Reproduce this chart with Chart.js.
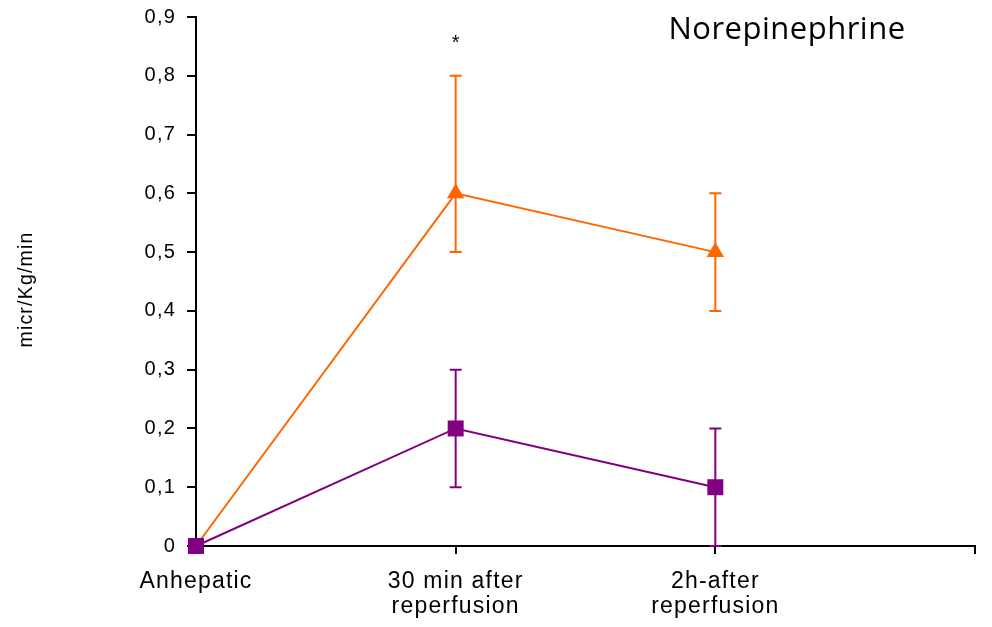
<!DOCTYPE html>
<html>
<head>
<meta charset="utf-8">
<script src="https://cdn.jsdelivr.net/npm/chart.js@4/dist/chart.umd.min.js"></script>
<style>
  html, body { margin: 0; padding: 0; background: #fff; }
  #wrap { width: 992px; height: 627px; }
</style>
</head>
<body>
<div id="wrap"><canvas id="chart"></canvas></div>
<script>
// categories (last slot is empty, the axis runs on to it)
const categories = ['Anhepatic', ['30 min after', 'reperfusion'], ['2h-after', 'reperfusion'], ''];
const yTicks = [0, 0.1, 0.2, 0.3, 0.4, 0.5, 0.6, 0.7, 0.8, 0.9];
const yTitle = 'micr/Kg/min';
const chartTitle = 'Norepinephrine';

const orangeMean = [0, 0.6, 0.5];
const orangeHigh = [null, 0.8, 0.6];
const orangeLow = [null, 0.5, 0.4];

const purpleMean = [0, 0.2, 0.1];
const purpleHigh = [null, 0.3, 0.2];
const purpleLow = [null, 0.1, 0.0];

// significance mark
const starIndex = 1;
const starValue = 0.855;

const ORANGE = '#ff6600';
const PURPLE = '#800080';
const FONT = '"Liberation Sans", Arial, sans-serif';

// the original text is slightly spread out
const spacing = {
    id: 'spacing',
    beforeUpdate(chart) { chart.ctx.letterSpacing = '1.2px'; },
    beforeDraw(chart) { chart.ctx.letterSpacing = '1.2px'; }
};

const errorBars = {
    id: 'errorBars',
    beforeDatasetsDraw(chart) {
        const { ctx, scales: { x, y } } = chart;
        const sets = [
            { high: purpleHigh, low: purpleLow, color: PURPLE },
            { high: orangeHigh, low: orangeLow, color: ORANGE }
        ];
        ctx.save();
        ctx.lineWidth = 2;
        sets.forEach(s => {
            ctx.strokeStyle = s.color;
            s.high.forEach((h, i) => {
                if (h === null) return;
                const px = x.getPixelForValue(i);
                const top = y.getPixelForValue(h);
                const bot = y.getPixelForValue(s.low[i]);
                ctx.beginPath();
                ctx.moveTo(px, top); ctx.lineTo(px, bot);
                ctx.moveTo(px - 6, top); ctx.lineTo(px + 6, top);
                ctx.moveTo(px - 6, bot); ctx.lineTo(px + 6, bot);
                ctx.stroke();
            });
        });
        ctx.restore();
    },
    afterDraw(chart) {
        const { ctx, scales: { x, y }, chartArea } = chart;
        ctx.save();
        ctx.fillStyle = '#000';
        ctx.textAlign = 'center';
        ctx.textBaseline = 'middle';
        ctx.letterSpacing = '0px';
        ctx.font = '20px ' + FONT;
        ctx.fillText('*', x.getPixelForValue(starIndex), y.getPixelForValue(starValue));

        ctx.textBaseline = 'alphabetic';
        ctx.letterSpacing = '0.5px';
        ctx.font = '31px "Open Sans", sans-serif';
        ctx.fillText(chartTitle, chartArea.right - 188, chartArea.top + 22);

        // y axis title, sits a little below the middle of the plot
        ctx.letterSpacing = '1.2px';
        ctx.font = '19.5px ' + FONT;
        ctx.textBaseline = 'middle';
        ctx.translate(27, (chartArea.top + chartArea.bottom) / 2 + 8);
        ctx.rotate(-Math.PI / 2);
        ctx.fillText(yTitle, 0, 0);
        ctx.restore();
    }
};

new Chart(document.getElementById('chart'), {
    type: 'line',
    data: {
        labels: categories,
        datasets: [
            {
                data: orangeMean,
                borderColor: ORANGE,
                backgroundColor: ORANGE,
                borderWidth: 2,
                pointStyle: 'triangle',
                pointRadius: [0, 10, 10],
                pointBorderWidth: 0,
                tension: 0,
                order: 2
            },
            {
                data: purpleMean,
                borderColor: PURPLE,
                backgroundColor: PURPLE,
                borderWidth: 2,
                pointStyle: 'rect',
                pointRadius: 11.3,
                pointBorderWidth: 0,
                tension: 0,
                order: 1
            }
        ]
    },
    options: {
        responsive: true,
        maintainAspectRatio: false,
        animation: false,
        clip: false,
        layout: { padding: { top: 17, right: 17, left: 0, bottom: 0 } },
        plugins: { legend: { display: false }, tooltip: { enabled: false } },
        scales: {
            x: {
                type: 'category',
                offset: false,
                border: { color: '#000', width: 2 },
                grid: { drawOnChartArea: false, color: '#000', lineWidth: 2, tickLength: 8 },
                ticks: {
                    color: '#000',
                    font: { family: FONT, size: 23, lineHeight: 1.1 },
                    padding: 15,
                    maxRotation: 0,
                    autoSkip: false
                },
                afterFit(s) { s.height = 81; s.paddingLeft = 0; s.paddingRight = 0; }
            },
            y: {
                min: 0,
                max: 0.9,
                afterBuildTicks(s) { s.ticks = yTicks.map(v => ({ value: v })); },
                border: { color: '#000', width: 2 },
                grid: { drawOnChartArea: false, color: '#000', lineWidth: 2, tickLength: 9 },
                ticks: {
                    color: '#000',
                    font: { family: FONT, size: 20 },
                    padding: 11,
                    callback: v => String(Math.round(v * 10) / 10).replace('.', ',')
                },
                afterFit(s) { s.width = 196; s.paddingTop = 0; s.paddingBottom = 0; }
            }
        }
    },
    plugins: [spacing, errorBars]
});
</script>
</body>
</html>
